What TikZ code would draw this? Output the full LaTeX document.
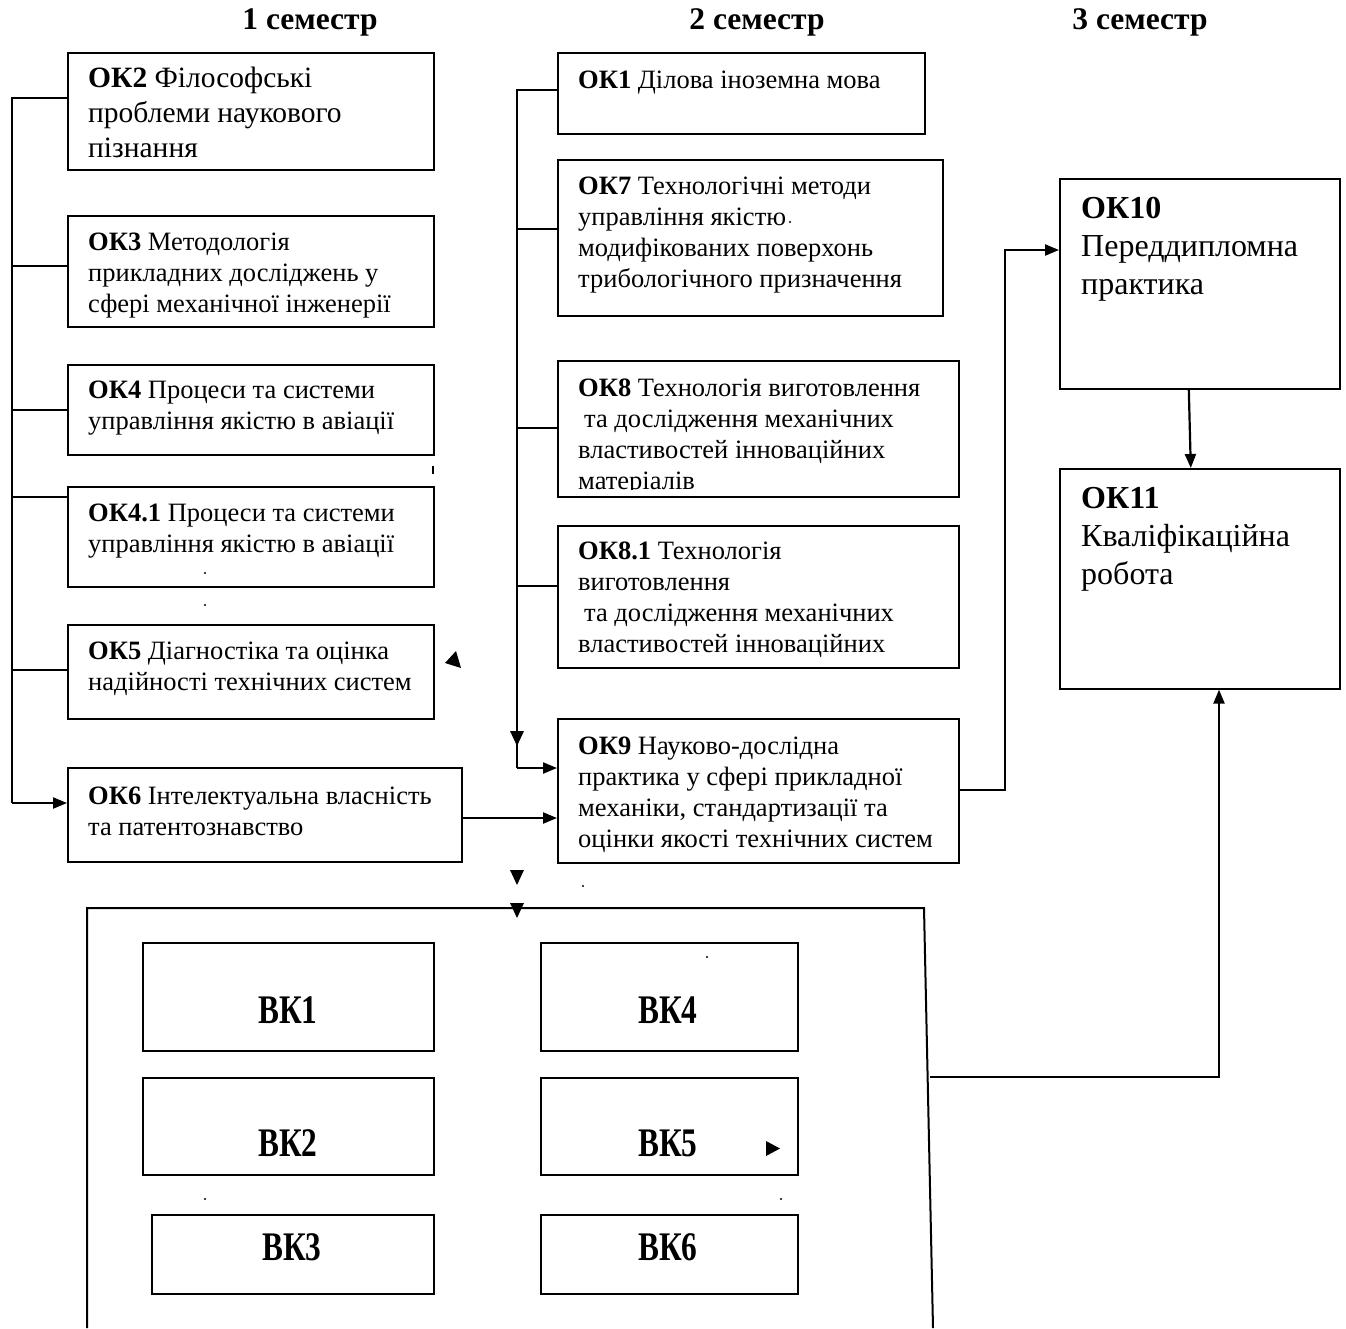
\documentclass[tikz,border=0pt]{standalone}
\usepackage{fontspec}
\usepackage{graphicx}
\setmainfont{Liberation Serif}
\usetikzlibrary{arrows.meta}
\begin{document}
\begin{tikzpicture}[x=1pt,y=1pt,
  box/.style={draw, line width=1.6pt, anchor=north west, inner sep=0pt},
  txt/.style={anchor=north west, inner sep=0pt, align=left, font=\fontsize{26.5}{31}\selectfont, execute at begin node=\strut},
  txtbig/.style={anchor=north west, inner sep=0pt, align=left, font=\fontsize{29.5}{35}\selectfont, execute at begin node=\strut},
  txthuge/.style={anchor=north west, inner sep=0pt, align=left, font=\fontsize{32}{38}\selectfont, execute at begin node=\strut},
  head/.style={inner sep=0pt, font=\fontsize{31.5}{36}\selectfont\bfseries},
  bk/.style={inner sep=0pt, font=\fontsize{28}{32}\selectfont\bfseries},
  bus/.style={line width=1.4pt},
  arr/.style={line width=2.2pt, -{Triangle[length=14pt,width=11pt]}},
  frame/.style={line width=2pt},
  dot/.style={fill=black}]
\useasboundingbox (0,0) rectangle (1346,-1328);

% headings
\node[head] (h1) at (310,-22) {1 семестр};
\node[head] (h2) at (757,-22) {2 семестр};
\node[head] (h3) at (1140,-22) {3 семестр};

% left column
\node[box, minimum width=366pt, minimum height=117pt] (ok2) at (67,-52) {};
\node[txtbig] (ok2t) at (88,-67) {\textbf{ОК2} Філософські\\проблеми наукового\\пізнання};
\node[box, minimum width=366pt, minimum height=111pt] (ok3) at (67,-215) {};
\node[txt] (ok3t) at (88,-233) {\textbf{ОК3} Методологія\\прикладних досліджень у\\сфері механічної інженерії};
\node[box, minimum width=366pt, minimum height=90pt] (ok4) at (67,-364) {};
\node[txt] (ok4t) at (88,-381) {\textbf{ОК4} Процеси та системи\\управління якістю в авіації};
\node[box, minimum width=366pt, minimum height=100pt] (ok41) at (67,-486) {};
\node[txt] (ok41t) at (88,-504) {\textbf{ОК4.1} Процеси та системи\\управління якістю в авіації};
\node[box, minimum width=366pt, minimum height=94pt] (ok5) at (67,-624) {};
\node[txt] (ok5t) at (88,-642) {\textbf{ОК5} Діагностіка та оцінка\\надійності технічних систем};
\node[box, minimum width=394pt, minimum height=94pt] (ok6) at (67,-767) {};
\node[txt] (ok6t) at (88,-787) {\textbf{ОК6} Інтелектуальна власність\\та патентознавство};

% middle column
\node[box, minimum width=367pt, minimum height=81pt] (ok1) at (557,-52) {};
\node[txt] (ok1t) at (578,-67) {\textbf{ОК1} Ділова іноземна мова};
\node[box, minimum width=385pt, minimum height=156pt] (ok7) at (557,-159) {};
\node[txt] (ok7t) at (578,-177) {\textbf{ОК7} Технологічні методи\\управління якістю\\модифікованих поверхонь\\трибологічного призначення};
\node[box, minimum width=401pt, minimum height=136pt] (ok8) at (557,-360) {};
\begin{scope}
\clip (557,-360) rectangle (958,-489);
\node[txt] (ok8t) at (578,-379) {\textbf{ОК8} Технологія виготовлення\\\hspace{6pt}та дослідження механічних\\властивостей інноваційних\\матеріалів};
\end{scope}
\node[box, minimum width=401pt, minimum height=142pt] (ok81) at (557,-525) {};
\node[txt] (ok81t) at (578,-542) {\textbf{ОК8.1} Технологія\\виготовлення\\\hspace{6pt}та дослідження механічних\\властивостей інноваційних};
\node[box, minimum width=401pt, minimum height=144pt] (ok9) at (557,-718) {};
\node[txt] (ok9t) at (578,-737) {\textbf{ОК9} Науково-дослідна\\практика у сфері прикладної\\механіки, стандартизації та\\оцінки якості технічних систем};

% right column
\node[box, minimum width=280pt, minimum height=210pt] (ok10) at (1059,-178) {};
\node[txthuge] (ok10t) at (1081,-197) {\textbf{ОК10}\\Переддипломна\\практика};
\node[box, minimum width=280pt, minimum height=220pt] (ok11) at (1059,-468) {};
\node[txthuge] (ok11t) at (1081,-487) {\textbf{ОК11}\\Кваліфікаційна\\робота};

% big frame
\coordinate (bbBL) at (87,-1328);
\coordinate (bbTL) at (87,-908);
\coordinate (bbTR) at (924,-908);
\coordinate (bbBR) at (933,-1328);
\draw[frame] (bbBL) -- (bbTL) -- (bbTR) -- (bbBR);

\node[box, minimum width=291pt, minimum height=108pt] (bk1) at (142,-942) {};
\node[box, minimum width=291pt, minimum height=97pt] (bk2) at (142,-1077) {};
\node[box, minimum width=282pt, minimum height=79pt] (bk3) at (151,-1214) {};
\node[box, minimum width=257pt, minimum height=108pt] (bk4) at (540,-942) {};
\node[box, minimum width=257pt, minimum height=97pt] (bk5) at (540,-1077) {};
\node[box, minimum width=257pt, minimum height=79pt] (bk6) at (540,-1214) {};
\node[bk] (bk1t) at (288,-1010) {\scalebox{1.12}[1.45]{ВК1}};
\node[bk] (bk2t) at (288,-1143) {\scalebox{1.12}[1.45]{ВК2}};
\node[bk] (bk3t) at (292,-1247) {\scalebox{1.12}[1.45]{ВК3}};
\node[bk] (bk4t) at (668,-1010) {\scalebox{1.12}[1.45]{ВК4}};
\node[bk] (bk5t) at (668,-1143) {\scalebox{1.12}[1.45]{ВК5}};
\node[bk] (bk6t) at (668,-1247) {\scalebox{1.12}[1.45]{ВК6}};

% left bus
\coordinate (b2) at (12,-98);
\coordinate (b3) at (12,-266);
\coordinate (b4) at (12,-410);
\coordinate (b41) at (12,-497);
\coordinate (b5) at (12,-670);
\coordinate (b6) at (12,-803);
\draw[bus] (ok2.west |- b2) -- (b2) -- (b6);
\draw[bus] (b3) -- (ok3.west |- b3);
\draw[bus] (b4) -- (ok4.west |- b4);
\draw[bus] (b41) -- (ok41.west |- b41);
\draw[bus] (b5) -- (ok5.west |- b5);
\draw[arr] (b6) -- (ok6.west |- b6);

% middle bus
\coordinate (m1) at (517,-90);
\coordinate (m7) at (517,-229);
\coordinate (m8) at (517,-428);
\coordinate (m81) at (517,-586);
\coordinate (m9) at (517,-768);
\draw[bus] (ok1.west |- m1) -- (m1) -- (m9);
\draw[bus] (m7) -- (ok7.west |- m7);
\draw[bus] (m8) -- (ok8.west |- m8);
\draw[bus] (m81) -- (ok81.west |- m81);
\draw[arr] (m9) -- (ok9.west |- m9);
\fill (510,-731) -- (524,-731) -- (517,-746) -- cycle;

% OK6 -> OK9
\coordinate (c69) at (461,-818);
\draw[arr] (ok6.east |- c69) -- (ok9.west |- c69);

% OK9 -> OK10
\coordinate (r1) at (1005,-790);
\coordinate (r2) at (1005,-250);
\draw[arr] (ok9.east |- r1) -- (r1) -- (r2) -- (ok10.west |- r2);

% OK10 -> OK11
\draw[arr] ([xshift=-11pt]ok10.south) -- ([xshift=-9pt]ok11.north);

% frame -> OK11
\coordinate (bbR) at (930,-1077);
\coordinate (c11) at (1219,-1077);
\draw[arr] (bbR) -- (c11) -- (c11 |- ok11.south);

% stray arrowheads
\fill (510,-870) -- (524,-870) -- (517,-885) -- cycle;
\fill (510,-903) -- (524,-903) -- (517,-918) -- cycle;
\fill (445,-663) -- (456,-651) -- (461,-668) -- cycle;
\fill (766,-1141) -- (766,-1156) -- (780,-1148.5) -- cycle;

% stray dots
\fill (432,-466) rectangle (434,-474);
\foreach \p in {(205,-573),(205,-605),(790,-222),(583,-886),(707,-957),(205,-1199),(781,-1199)}
  \fill \p circle (1.2);
\end{tikzpicture}
\end{document}
